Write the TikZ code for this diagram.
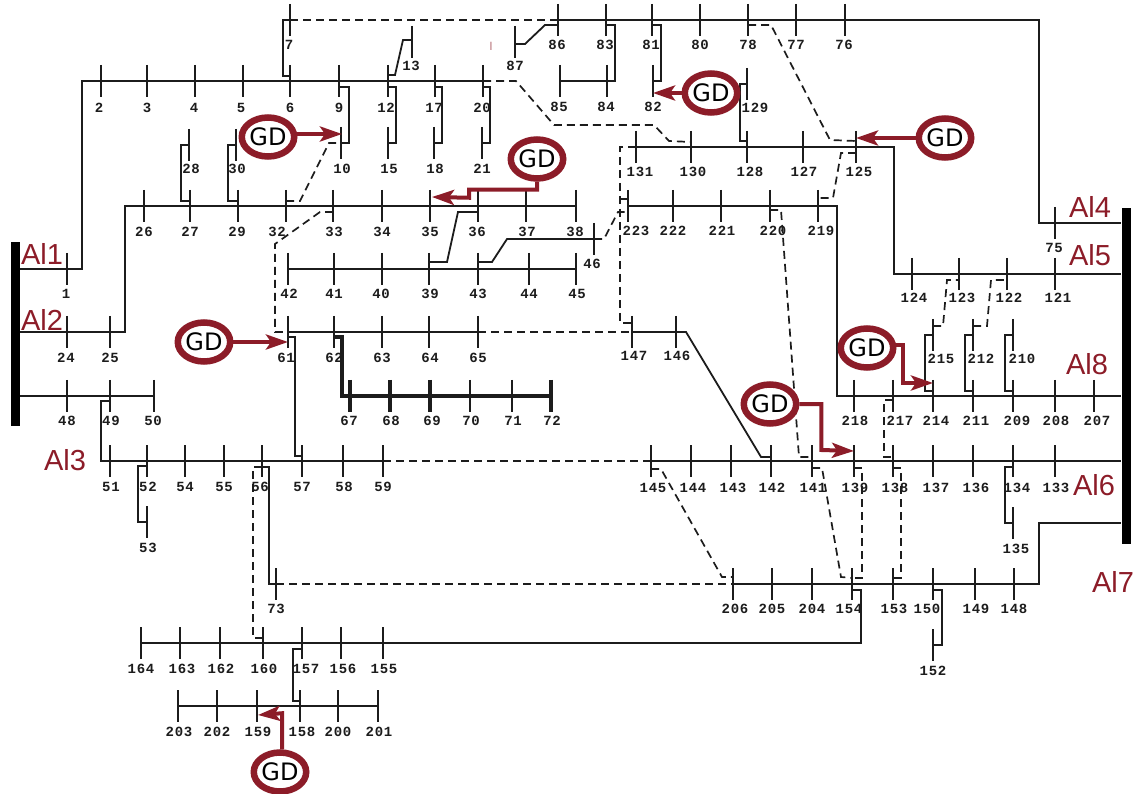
\documentclass[tikz,border=0pt]{standalone}
\usepackage{fontspec}
\setmainfont{Liberation Sans}
\newfontfamily\busfont[LetterSpace=5]{Liberation Mono}
\newfontfamily\gdfont{DejaVu Sans}
\usetikzlibrary{arrows.meta,calc,shapes.geometric}
\definecolor{alred}{HTML}{8C1C28}
\definecolor{wire}{HTML}{1C1C1C}
\tikzset{
  feeder/.style={line width=1.8pt, draw=wire},
  tieline/.style={line width=1.7pt, draw=wire, dash pattern=on 8pt off 5pt},
  heavy/.style={line width=3.2pt, draw=wire},
  bustick/.style={line width=1.8pt, draw=wire},
  buslabel/.style={inner sep=0pt, text=wire, font=\busfont\bfseries\fontsize{14}{14}\selectfont},
  albar/.style={fill=black, inner sep=0pt, minimum width=9pt},
  allabel/.style={inner sep=0pt, text=alred, font=\fontsize{29}{29}\selectfont},
  gdnode/.style={ellipse, draw=alred, fill=white, line width=6.5pt, inner sep=0pt, minimum width=52pt, minimum height=39pt, font=\gdfont\fontsize{24}{24}\selectfont},
  gdarrow/.style={->, line width=4pt, draw=alred, >={Stealth[length=22pt,width=15pt,inset=5pt]}},
}
% row of buses: [tick options]{bus y}{label y}{number/x/label x}
\newcommand{\busrow}[4][]{%
  \foreach \n/\x/\lx in {#4} {
    \node[coordinate] (b\n) at (\x,#2) {};
    \draw[bustick,#1] (b\n) ++(0,-16) -- ++(0,32);
    \node[buslabel] (l\n) at (\lx,#3) {\n};
  }%
}
\begin{document}
\begin{tikzpicture}[x=1pt,y=-1pt,line join=miter]
  \useasboundingbox (0,0) rectangle (1141,794);
  % supply bars
  \node[albar,minimum height=184pt] (barL) at (15.5,334) {};
  \node[albar,minimum height=335pt] (barR) at (1126,376) {};
  \node[allabel] (al1) at (42,254) {Al1};
  \node[allabel] (al2) at (42,320) {Al2};
  \node[allabel] (al3) at (65,460) {Al3};
  \node[allabel] (al4) at (1090,207) {Al4};
  \node[allabel] (al5) at (1090,255) {Al5};
  \node[allabel] (al8) at (1087,364) {Al8};
  \node[allabel] (al6) at (1094,485) {Al6};
  \node[allabel] (al7) at (1113,582) {Al7};
  % buses, top to bottom
  \busrow{20}{45}{7/290/289,86/558/557,83/606/605,81/652/651,80/700/700,78/748/748,77/796/796,76/845/844}
  \busrow{42}{66}{13/412/411,87/515/515}
  \busrow{81}{108}{2/101/99,3/147/147,4/195/194,5/243/241,6/290/290,9/339/339,12/388/386,17/435/434,20/483/482}
  \busrow{81}{107}{85/560/559,84/607/606,82/653/653}
  \busrow{84}{108}{129/747/755}
  \busrow{143}{169}{10/341/342,15/388/389,18/434/435,21/482/482}
  \busrow{145}{169}{28/189/191,30/236/237}
  \busrow{147}{172}{131/636/640,130/691/693,128/747/750,127/803/804,125/856/859}
  \busrow{206}{232}{26/144/144,27/190/190,29/238/237,32/286/277,33/333/334,34/382/382,35/430/430,36/478/477,37/526/527,38/576/575}
  \busrow{206}{231}{223/628/636,222/673/673,221/721/722,220/770/773,219/818/821}
  \busrow{239}{264}{46/594/592}
  \busrow{223}{248}{75/1055/1054}
  \busrow{269}{294}{1/67/66,42/288/289,41/334/334,40/382/381,39/429/430,43/478/478,44/529/529,45/576/577}
  \busrow{274}{298}{124/912/914,123/959/962,122/1007/1009,121/1055/1058}
  \busrow{332}{358}{24/67/66,25/110/110,61/288/286,62/334/334,63/382/382,64/429/430,65/478/478}
  \busrow{332}{356}{147/632/634,146/676/677}
  \busrow{335}{359}{215/933/941,212/973/981,210/1013/1022}
  \busrow{396}{421}{48/67/67,49/110/111,50/154/153,70/470/471,71/512/513,218/854/855,217/893/900,214/933/936,211/973/976,209/1013/1017,208/1055/1056,207/1094/1097}
  \busrow[line width=3.2pt]{396}{421}{67/350/349,68/390/391,69/430/432,72/551/552}
  \busrow{461}{487}{51/110/111,52/147/148,54/185/185,55/224/224,56/262/260,57/302/302,58/343/344,59/383/383}
  \busrow{461}{488}{145/651/653,144/691/693,143/731/733,142/771/772,141/812/813,139/854/855,138/893/895,137/933/936,136/973/976,134/1013/1017,133/1055/1056}
  \busrow{522}{548}{53/147/148}
  \busrow{523}{549}{135/1013/1016}
  \busrow{584}{609}{73/276/276,206/733/735,205/772/772,204/812/812,154/852/849,153/893/894,150/933/927,149/975/976,148/1014/1014}
  \busrow{643}{669}{164/141/141,163/180/182,162/220/221,160/263/264,157/302/306,156/341/343,155/383/384}
  \busrow{645}{671}{152/933/933}
  \busrow{706}{732}{203/178/179,202/217/217,159/257/258,158/300/302,200/338/338,201/378/379}
  % main feeders
  \draw[feeder] (barL.east |- b1) -- (b1) -- ++(15,0) |- (b2) -- (b20);
  \draw[feeder] (barL.east |- b24) -- (b25) -- ++(15,0) |- (b26) -- (b38);
  \draw[feeder] (barL.east |- b48) -- (b50);
  \draw[feeder] (b49) ++(0,5) -- ++(-9,0) |- (b51) -- (b59);
  \draw[feeder] (b86) -- (b76) -- ++(194,0) |- (barR.west |- b75);
  \draw[feeder] (b131) -- (b125) -- ++(38,0) |- (barR.west |- b124);
  \draw[feeder] (b223) -- (b219) -- ++(19,0) |- (barR.west |- b218);
  \draw[feeder] (b145) -- (barR.west |- b145);
  \draw[feeder] (b206) -- (b148) -- ++(25,0) |- (barR.west |- b135);
  \draw[feeder] (b42) -- (b45);
  \draw[feeder] (b61) -- (b65);
  \draw[feeder] (b147) -- (b146) -- ++(10,0) -- ($(b142)+(-10,-4)$) -- ++(10,0);
  \draw[feeder] (b164) -- (b155) -| ($(b154)+(9,6)$) -- ++(-9,0);
  \draw[feeder] (b85) -- (b84);
  \draw[feeder] (b203) -- (b201);
  \draw[heavy] (b67) -- (b72);
  \draw[heavy] (b62) ++(0,5) -- ++(8,0) |- (b67);
  % branches
  \draw[feeder] (b6) ++(0,-5) -- ++(-7,0) |- (b7);
  \draw[feeder] (b12) ++(0,-6) -- ++(7,0) -- ++(8,-35) -- ($(b13)+(0,-2)$);
  \draw[feeder] (b9) ++(0,6) -- ++(10,0) |- (b10);
  \draw[feeder] (b12) ++(0,6) -- ++(8,0) |- (b15);
  \draw[feeder] (b17) ++(0,6) -- ++(7,0) |- (b18);
  \draw[feeder] (b20) ++(0,6) -- ++(7,0) |- (b21);
  \draw[feeder] (b27) ++(0,-5) -- ++(-9,0) |- (b28);
  \draw[feeder] (b29) ++(0,-5) -- ++(-10,0) |- (b30);
  \draw[feeder] (b36) ++(0,6) -- ++(-20,0) -- ++(-11,50) -- ($(b39)+(0,-7)$);
  \draw[feeder] (b43) ++(0,-7) -- ++(14,0) -- ++(15,-23) -- (b46);
  \draw[feeder] (b87) ++(0,2) -- ++(10,0) -- ++(20,-19) -- ($(b86)+(0,5)$);
  \draw[feeder] (b83) ++(0,5) -- ++(9,0) |- (b84);
  \draw[feeder] (b81) ++(0,5) -- ++(9,0) |- (b82);
  \draw[feeder] (b129) -- ++(-7,0) |- ($(b128)+(0,-6)$);
  \draw[feeder] (b61) ++(0,5) -- ++(7,0) |- ($(b57)+(0,-5)$);
  \draw[feeder] (b52) ++(0,5) -- ++(-9,0) |- (b53);
  \draw[feeder] (b56) ++(0,6) -- ++(7,0) |- (b73);
  \draw[feeder] (b157) ++(0,6) -- ++(-9,0) |- ($(b158)+(0,-5)$);
  \draw[feeder] (b214) ++(0,-5) -- ++(-8,0) |- (b215);
  \draw[feeder] (b211) ++(0,-5) -- ++(-8,0) |- (b212);
  \draw[feeder] (b209) ++(0,-5) -- ++(-8,0) |- (b210);
  \draw[feeder] (b134) ++(0,6) -- ++(-8,0) |- (b135);
  \draw[feeder] (b150) ++(0,6) -- ++(9,0) |- (b152);
  % tie lines
  \draw[tieline] (b7) -- (b86);
  \draw[tieline] (b20) -- ++(33,0) -- ++(38,44) -- ++(100,0) -- ++(15,16) -- ($(b130)+(0,-5)$);
  \draw[tieline] (b78) ++(0,5) -- ++(23,0) -- ++(59,115) -- ($(b125)+(0,-6)$);
  \draw[tieline] (b125) ++(0,6) -- ++(-15,0) -- ++(-8,45) -- ($(b219)+(0,-8)$);
  \draw[tieline] (b32) ++(0,-5) -- ++(14,0) -- ++(29,-58) -- (b10);
  \draw[tieline] (b33) ++(0,6) -- ++(-13,0) -- ++(-45,32) |- (b61);
  \draw[tieline] (b46) -- ++(10,0) -- ++(14,-27) -- ($(b223)+(0,6)$);
  \draw[tieline] (b131) -- ++(-16,0) |- ($(b147)+(0,-9)$);
  \draw[tieline] (b223) ++(0,-7) -- ++(-8,0);
  \draw[tieline] (b65) -- (b147);
  \draw[tieline] (b59) -- (b145);
  \draw[tieline] (b73) -- (b206);
  \draw[tieline] (b220) ++(0,4) -- ++(11,0) -- ($(b141)+(-13,-4)$) -- ++(13,0);
  \draw[tieline] (b145) ++(0,8) -- ++(10,0) -- ($(b206)+(-11,-7)$) -- ++(11,0);
  \draw[tieline] (b141) ++(0,7) -- ++(10,0) -- ($(b154)+(-11,-7)$) -- ++(11,1);
  \draw[tieline] (b139) ++(0,7) -- ++(8,0) |- ($(b154)+(0,-6)$);
  \draw[tieline] (b138) ++(0,7) -- ++(8,0) |- ($(b153)+(0,-6)$);
  \draw[tieline] (b217) ++(0,4) -- ++(-9,0) |- ($(b138)+(0,-4)$);
  \draw[tieline] (b215) ++(0,-9) -- ++(10,0) -- ++(4,-46) -- ($(b123)+(0,6)$);
  \draw[tieline] (b212) ++(0,-9) -- ++(14,0) -- ++(4,-46) -- ($(b122)+(0,6)$);
  \draw[tieline] (b56) ++(0,6) -- ++(-9,0) |- ($(b160)+(0,-5)$);
  % stray mark
  \node[inner sep=0pt,text=alred!60,font=\fontsize{12}{12}\selectfont] (mark) at (491,46) {I};
  % generators
  \node[gdnode] (gd1) at (268,137) {GD};
  \node[gdnode] (gd2) at (537,159) {GD};
  \node[gdnode] (gd3) at (711,93) {GD};
  \node[gdnode] (gd4) at (945,138) {GD};
  \node[gdnode] (gd5) at (204,342) {GD};
  \node[gdnode] (gd6) at (770,404) {GD};
  \node[gdnode] (gd7) at (867,348) {GD};
  \node[gdnode] (gd8) at (280,772) {GD};
  \draw[gdarrow] ($(gd1.east)+(0,-3)$) -- ($(b10)+(1,-9)$);
  \draw[gdarrow] (gd2.south) -- ++(0,8) -- ++(-68,0) -- ++(0,8) -- ($(b35)+(2,-9)$);
  \draw[gdarrow] (gd3.west) -- (gd3 -| b82);
  \draw[gdarrow] (gd4.west) -- (b125 |- gd4);
  \draw[gdarrow] (gd5.east) -- (gd5 -| b61);
  \draw[gdarrow] (gd6.east) -- ++(22,0) -- ++(0,46) -- ($(b139)+(0,-10)$);
  \draw[gdarrow] ($(gd7.east)+(0,-3)$) -- ++(7,0) -- ++(0,38) -- ($(b214)+(0,-13)$);
  \draw[gdarrow] ($(gd8.north)+(2,0)$) -- ++(0,-36) -- ($(b159)+(1,9)$);
\end{tikzpicture}
\end{document}
